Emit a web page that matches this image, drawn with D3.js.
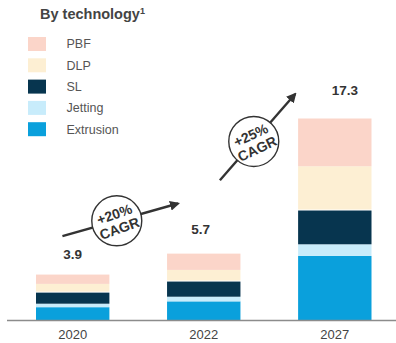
<!DOCTYPE html>
<html>
<head>
<meta charset="utf-8">
<script src="https://cdn.jsdelivr.net/npm/d3@7"></script>
<style>
  html, body { margin: 0; padding: 0; background: #fff; }
  svg { display: block; font-family: "Liberation Sans", Arial, sans-serif; }
</style>
</head>
<body>
<div id="chart"></div>
<script>
// data
const years = ["2020", "2022", "2027"];
const technologies = ["PBF", "DLP", "SL", "Jetting", "Extrusion"];
const totals = [3.9, 5.7, 17.3];
const extrusion = [1.1, 1.6, 5.5];
const jetting = [0.3, 0.4, 1.0];
const sl = [0.95, 1.3, 2.9];
const dlp = [0.75, 1.0, 3.8];
const pbf = [0.8, 1.4, 4.1];
const cagrLabels = [["+20%", "CAGR"], ["+25%", "CAGR"]];

const colors = {
    PBF: "#fbd5c9",
    DLP: "#fdefd3",
    SL: "#07354f",
    Jetting: "#c8ecfb",
    Extrusion: "#0aa0dc"
};

const width = 396;
const height = 343;

const rows = years.map((yr, i) => ({
    year: yr,
    Extrusion: extrusion[i],
    Jetting: jetting[i],
    SL: sl[i],
    DLP: dlp[i],
    PBF: pbf[i],
    total: totals[i]
}));

const svg = d3.select("#chart")
    .append("svg")
    .attr("width", width)
    .attr("height", height);

const x = d3.scaleBand()
    .domain(years)
    .range([36, 371.5])
    .paddingInner(0.44)
    .paddingOuter(0);

const y = d3.scaleLinear()
    .domain([0, d3.max(totals)])
    .range([320, 118.5]);

// stack bottom -> top
const stack = d3.stack().keys(["Extrusion", "Jetting", "SL", "DLP", "PBF"]);
const series = stack(rows);

svg.append("g")
    .selectAll("g")
    .data(series)
    .join("g")
    .attr("fill", d => colors[d.key])
    .selectAll("rect")
    .data(d => d.map(v => Object.assign(v, { key: d.key })))
    .join("rect")
    .attr("x", d => x(d.data.year))
    .attr("width", x.bandwidth())
    .attr("y", d => y(d[1]))
    .attr("height", d => y(d[0]) - y(d[1]) - (d.key == "DLP" ? 1 : 0)); // thin white gap above SL

// baseline
svg.append("line")
    .attr("x1", 7)
    .attr("x2", width)
    .attr("y1", y(0) + 0.5)
    .attr("y2", y(0) + 0.5)
    .attr("stroke", "#8c8c8c")
    .attr("stroke-width", 1.6);

// year labels
svg.append("g")
    .selectAll("text")
    .data(years)
    .join("text")
    .attr("x", d => x(d) + x.bandwidth() / 2)
    .attr("y", 339)
    .attr("text-anchor", "middle")
    .attr("font-size", "13px")
    .attr("fill", "#444")
    .text(d => d);

// totals
const totalNudge = [0, -3, 10];
svg.append("g")
    .selectAll("text")
    .data(rows)
    .join("text")
    .attr("x", (d, i) => x(d.year) + x.bandwidth() / 2 + totalNudge[i])
    .attr("y", (d, i) => y(d.total) - 16 - i * 4)
    .attr("text-anchor", "middle")
    .attr("font-size", "13.5px")
    .attr("font-weight", "bold")
    .attr("fill", "#333")
    .text(d => d.total.toFixed(1));

// title
const title = svg.append("text")
    .attr("x", 40)
    .attr("y", 19)
    .attr("font-size", "14.5px")
    .attr("font-weight", "bold")
    .attr("fill", "#444");
title.append("tspan").text("By technology");
title.append("tspan")
    .attr("font-size", "9px")
    .attr("dy", "-5")
    .text("1");

// legend
const legend = svg.append("g")
    .selectAll("g")
    .data(technologies)
    .join("g")
    .attr("transform", (d, i) => `translate(28, ${44 + i * 21.3})`);

legend.append("rect")
    .attr("x", 0)
    .attr("y", -7)
    .attr("width", 18)
    .attr("height", 14)
    .attr("fill", d => colors[d]);

legend.append("text")
    .attr("x", 38.5)
    .attr("y", 0)
    .attr("dy", ".35em")
    .attr("font-size", "12.5px")
    .attr("fill", "#555")
    .text(d => d);

// CAGR arrows, placed from the scales
const bw = x.bandwidth();
const arrows = [
    {
        label: cagrLabels[0],
        from: [x("2020") + bw * 0.36, y(7.2)],
        to: [x("2022") + bw * 0.15, y(10)],
        circle: 0.47,
        rot: -20
    },
    {
        label: cagrLabels[1],
        from: [x("2022") + bw * 0.72, y(12)],
        to: [x("2027") - bw * 0.04, y(19.4)],
        circle: 0.45,
        rot: -25
    }
];

svg.append("defs").append("marker")
    .attr("id", "head")
    .attr("viewBox", "0 0 10 10")
    .attr("refX", 8)
    .attr("refY", 5)
    .attr("markerWidth", 4.2)
    .attr("markerHeight", 4.2)
    .attr("orient", "auto")
    .append("path")
    .attr("d", "M0,0L10,5L0,10Z")
    .attr("fill", "#333");

arrows.forEach(a => {
    svg.append("line")
        .attr("x1", a.from[0])
        .attr("y1", a.from[1])
        .attr("x2", a.to[0])
        .attr("y2", a.to[1])
        .attr("stroke", "#333")
        .attr("stroke-width", 2.4)
        .attr("marker-end", "url(#head)");

    const cx = a.from[0] + (a.to[0] - a.from[0]) * a.circle;
    const cy = a.from[1] + (a.to[1] - a.from[1]) * a.circle;

    svg.append("circle")
        .attr("cx", cx)
        .attr("cy", cy)
        .attr("r", 25)
        .attr("fill", "#fff")
        .attr("stroke", "#333")
        .attr("stroke-width", 1.4);

    const t = svg.append("text")
        .attr("transform", `translate(${cx}, ${cy}) rotate(${a.rot})`)
        .attr("text-anchor", "middle")
        .attr("font-size", "14px")
        .attr("font-weight", "bold")
        .attr("fill", "#333");
    t.append("tspan").attr("x", 0).attr("y", -2).text(a.label[0]);
    t.append("tspan").attr("x", 0).attr("y", 13).text(a.label[1]);
});
</script>
</body>
</html>
